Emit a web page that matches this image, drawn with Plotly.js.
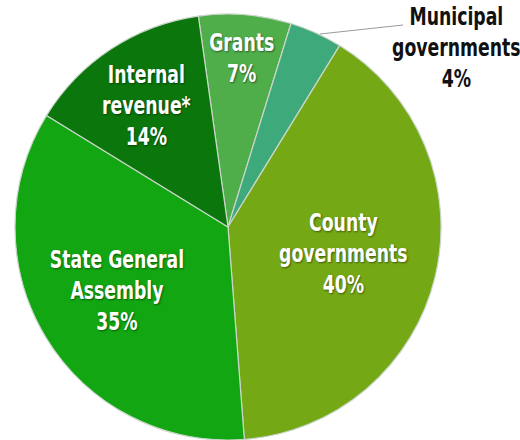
<!DOCTYPE html>
<html>
<head>
<meta charset="utf-8">
<script src="https://cdn.plot.ly/plotly-3.0.1.min.js"></script>
<style>
html,body{margin:0;padding:0;background:#fff;overflow:hidden;}
#chart{width:520px;height:440px;}
</style>
</head>
<body>
<div id="chart"></div>
<script>
// Data (clockwise from the Grants slice)
const categories = ['Grants', 'Municipal<br>governments', 'County<br>governments', 'State General<br>Assembly', 'Internal<br>revenue*'];
const shares = [7, 4, 40, 35, 14];
const sliceColors = ['#4fae4a', '#3ea97a', '#74a814', '#12a612', '#0b760b'];

const W = 520, H = 440;
const FONT = '"DejaVu Sans Condensed", "Liberation Sans Narrow", "DejaVu Sans", sans-serif';

const trace = {
  type: 'pie',
  values: shares,
  labels: categories,
  sort: false,
  direction: 'clockwise',
  rotation: -8,
  textinfo: 'none',
  hoverinfo: 'label+percent',
  marker: { colors: sliceColors, line: { color: '#c9d6c9', width: 1.2 } },
  domain: { x: [13 / W, 443 / W], y: [0, 1 - 14 / H] },
  showlegend: false
};

// label placements (pixel centres) for each category, same order as data
const labelPos = [[242, 58], [456, 48], [343, 254], [117, 291], [146, 106]];
const labelColor = ['#ffffff', '#111111', '#ffffff', '#ffffff', '#ffffff'];

const annotations = categories.map((c, i) => ({
  xref: 'paper', yref: 'paper',
  x: labelPos[i][0] / W, y: 1 - labelPos[i][1] / H,
  xanchor: 'center', yanchor: 'middle',
  text: c + '<br>' + shares[i] + '%',
  showarrow: false,
  font: {
    family: FONT, size: 24, weight: 'bold', color: labelColor[i],
    shadow: i === 1 ? 'none' : '1px 1px 2px rgba(0,0,0,0.45)'
  }
}));

const layout = {
  width: W, height: H,
  margin: { l: 0, r: 0, t: 0, b: 0 },
  paper_bgcolor: '#ffffff',
  annotations: annotations,
  shapes: [{
    type: 'line', xref: 'paper', yref: 'paper',
    x0: 320 / W, y0: 1 - 34 / H, x1: 403 / W, y1: 1 - 25 / H,
    line: { color: '#9a9a9a', width: 1 }
  }]
};

Plotly.newPlot('chart', [trace], layout, { displayModeBar: false, staticPlot: true }).then(() => {
  // condense the label glyphs horizontally (tall, narrow lettering as in the original)
  document.querySelectorAll('#chart text.annotation-text').forEach(t => {
    const b = t.getBBox();
    const cx = b.x + b.width / 2;
    const prev = t.getAttribute('transform') || '';
    t.setAttribute('transform', prev + ` translate(${cx},0) scale(0.8,1) translate(${-cx},0)`);
  });
});
</script>
</body>
</html>
